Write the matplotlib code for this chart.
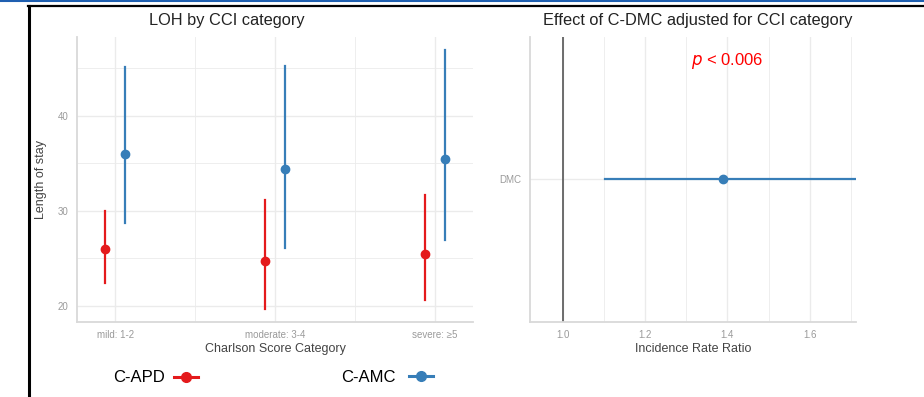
import matplotlib
matplotlib.use("Agg")
import matplotlib.pyplot as plt
from matplotlib.lines import Line2D
from matplotlib.ticker import FixedLocator

plt.rcParams['font.family'] = ['Liberation Sans', 'DejaVu Sans']

# data
categories = ["mild: 1-2", "moderate: 3-4", "severe: \u22655"]
groups = ["C-APD", "C-AMC"]
apd_mean = [26.0, 24.7, 25.5]
apd_low = [22.4, 19.7, 20.6]
apd_high = [30.0, 31.1, 31.7]
amc_mean = [36.0, 34.4, 35.5]
amc_low = [28.7, 26.1, 26.9]
amc_high = [45.1, 45.2, 46.9]

irr_label = ["DMC"]
irr_est = [1.389]
irr_low = [1.103]
irr_high = [1.71]
p_text = " < 0.006"

RED = "#E41A1C"
BLUE = "#377EB8"
GRID = "#EBEBEB"
AXLINE = "#D9D9D9"
TICKC = "#9A9A9A"

W, H = 924, 397
fig = plt.figure(figsize=(W / 100, H / 100), dpi=100)


def px_axes(x0, y0, x1, y1):
    # pixel box (top-left origin) -> figure fraction
    return fig.add_axes([x0 / W, 1 - y1 / H, (x1 - x0) / W, (y1 - y0) / H])


def style(ax):
    for s in ["top", "right"]:
        ax.spines[s].set_visible(False)
    for s in ["left", "bottom"]:
        ax.spines[s].set_color(AXLINE)
        ax.spines[s].set_linewidth(1.3)
    ax.tick_params(which="both", length=0, labelsize=7, colors=TICKC, pad=6)
    ax.grid(which="major", color=GRID, lw=1.0)
    ax.grid(which="minor", color=GRID, lw=0.6)
    ax.set_axisbelow(True)


# left panel
ax1 = px_axes(77, 37, 473, 322)
style(ax1)
dodge = 0.0625
xs = [i + 1 for i in range(len(categories))]
for i, x in enumerate(xs):
    ax1.plot([x - dodge, x - dodge], [apd_low[i], apd_high[i]], color=RED, lw=1.6)
    ax1.plot([x + dodge, x + dodge], [amc_low[i], amc_high[i]], color=BLUE, lw=1.6)
ax1.plot([x - dodge for x in xs], apd_mean, "o", color=RED, ms=6)
ax1.plot([x + dodge for x in xs], amc_mean, "o", color=BLUE, ms=6)
ax1.set_xlim(0.76, 3.24)
ax1.set_ylim(18.3, 48.3)
ax1.set_xticks(xs)
ax1.set_xticklabels(categories)
ax1.xaxis.set_minor_locator(FixedLocator([1.5, 2.5]))
ax1.set_yticks([20, 30, 40])
ax1.yaxis.set_minor_locator(FixedLocator([25, 35, 45]))
ax1.set_xlabel("Charlson Score Category", fontsize=9, color="#444444", labelpad=2)
ax1.set_ylabel("Length of stay", fontsize=9, color="#444444", labelpad=8)
fig.text(227 / W, 1 - 21 / H, "LOH by CCI category", fontsize=11.8,
         color="#222222", ha="center", va="center")

# right panel
ax2 = px_axes(530, 37, 856, 322)
style(ax2)
ax2.axvline(1.0, color="#555555", lw=1.2, zorder=2)
ax2.plot([irr_low[0], irr_high[0]], [1, 1], color=BLUE, lw=1.6, zorder=3)
ax2.plot(irr_est, [1], "o", color=BLUE, ms=6, zorder=4)
ax2.set_xlim(0.92, 1.7125)
ax2.set_ylim(0.4, 1.6)
ax2.set_yticks([1])
ax2.set_yticklabels(irr_label)
ax2.xaxis.set_major_locator(FixedLocator([1.0, 1.2, 1.4, 1.6]))
ax2.xaxis.set_minor_locator(FixedLocator([1.1, 1.3, 1.5, 1.7]))
ax2.set_xlabel("Incidence Rate Ratio", fontsize=9, color="#444444", labelpad=2)
fig.text(698 / W, 1 - 21 / H, "Effect of C-DMC adjusted for CCI category",
         fontsize=11.8, color="#222222", ha="center", va="center")
ax2.text(1.4, 0.915, "$p$" + p_text, transform=ax2.get_xaxis_transform(),
         color="red", fontsize=12, ha="center", va="center")

# legend at the bottom
ly = 1 - 377 / H
fig.text(113 / W, ly, groups[0], fontsize=12, va="center", ha="left")
fig.text(341 / W, ly, groups[1], fontsize=12, va="center", ha="left")
fig.add_artist(Line2D([174 / W, 198 / W], [ly] * 2, color=RED, lw=2.2))
fig.add_artist(Line2D([186 / W], [ly], color=RED, marker="o", ms=7))
fig.add_artist(Line2D([409 / W, 433 / W], [1 - 376 / H] * 2, color=BLUE, lw=2.2))
fig.add_artist(Line2D([421 / W], [1 - 376 / H], color=BLUE, marker="o", ms=7))

# slide frame
fig.add_artist(Line2D([0, 1], [1 - 0.8 / H] * 2, color="#1F5FB0", lw=1.5))
fig.add_artist(Line2D([28 / W, 1], [1 - 6 / H] * 2, color="black", lw=1.6))
fig.add_artist(Line2D([29 / W, 29 / W], [0, 1 - 6 / H], color="black", lw=2.2))

fig.savefig("out.png", dpi=100)
